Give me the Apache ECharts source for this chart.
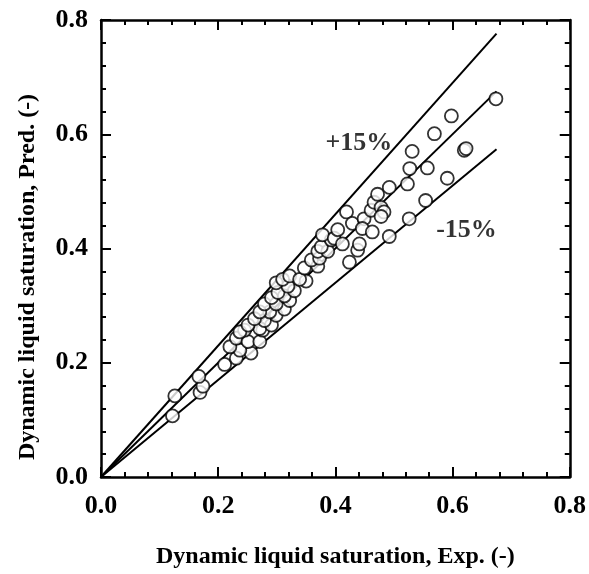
<!DOCTYPE html>
<html>
<head>
<meta charset="utf-8">
<script src="https://cdn.jsdelivr.net/npm/echarts@6/dist/echarts.min.js"></script>
<style>
  html, body { margin: 0; padding: 0; background: #fff; }
  #chart { width: 589px; height: 574px; }
</style>
</head>
<body>
<div id="chart"></div>
<script>
// Experimental vs predicted dynamic liquid saturation
const expSat = [
  0.122, 0.126, 0.169, 0.174, 0.167, 0.211, 0.231, 0.256, 0.237, 0.220,
  0.231, 0.251, 0.271, 0.245, 0.276, 0.237, 0.271, 0.251, 0.291, 0.279,
  0.262, 0.299, 0.288, 0.271, 0.313, 0.279, 0.299, 0.322, 0.291, 0.313,
  0.302, 0.330, 0.319, 0.299, 0.310, 0.350, 0.322, 0.339, 0.347, 0.370,
  0.359, 0.373, 0.370, 0.387, 0.376, 0.393, 0.378, 0.398, 0.404, 0.412,
  0.424, 0.438, 0.441, 0.419, 0.429, 0.449, 0.446, 0.463, 0.461, 0.466,
  0.472, 0.478, 0.483, 0.478, 0.492, 0.492, 0.526, 0.523, 0.527, 0.557,
  0.554, 0.531, 0.569, 0.598, 0.591, 0.620, 0.623, 0.674
];
const predSat = [
  0.107, 0.142, 0.148, 0.159, 0.176, 0.197, 0.208, 0.217, 0.222, 0.228,
  0.243, 0.237, 0.237, 0.257, 0.257, 0.254, 0.260, 0.266, 0.266, 0.274,
  0.277, 0.283, 0.289, 0.289, 0.294, 0.303, 0.303, 0.309, 0.314, 0.317,
  0.323, 0.326, 0.334, 0.340, 0.346, 0.343, 0.352, 0.346, 0.366, 0.369,
  0.380, 0.383, 0.395, 0.395, 0.403, 0.415, 0.424, 0.418, 0.433, 0.408,
  0.376, 0.397, 0.408, 0.464, 0.444, 0.452, 0.435, 0.429, 0.467, 0.481,
  0.495, 0.472, 0.464, 0.456, 0.507, 0.421, 0.452, 0.513, 0.540, 0.541,
  0.484, 0.570, 0.601, 0.632, 0.523, 0.572, 0.575, 0.662
];

// Parity line and ±15 % deviation bands
const lineEndX = 0.675;
const bandFactors = [1.15, 1.0, 0.85];

// Band annotations
const bandLabels = ['+15%', '-15%'];
const bandLabelPos = [[0.383, 0.585], [0.572, 0.432]];

// Axis ticks and titles
const axisMin = 0, axisMax = 0.8, axisStep = 0.2;
const xTitle = 'Dynamic liquid saturation, Exp. (-)';
const yTitle = 'Dynamic liquid saturation, Pred. (-)';

const font = '"Liberation Serif", "Times New Roman", serif';

const points = expSat.map((x, i) => [x, predSat[i]]);

const lineSeries = bandFactors.map(f => ({
  type: 'line',
  data: [[0, 0], [lineEndX, lineEndX * f]],
  symbol: 'none',
  lineStyle: { color: '#000', width: 2 },
  z: 2,
  silent: true
}));

function valueAxis(pos, showLabels, name, gap) {
  return {
    type: 'value',
    position: pos,
    min: axisMin, max: axisMax, interval: axisStep,
    name: name || '',
    nameLocation: 'middle',
    nameGap: gap || 0,
    nameTextStyle: { fontFamily: font, fontWeight: 'bold', fontSize: 24, color: '#000' },
    axisLine: { show: true, onZero: false, lineStyle: { color: '#000', width: 2.5 } },
    axisTick: { show: true, inside: true, length: 10, lineStyle: { color: '#000', width: 2 } },
    minorTick: { show: true, splitNumber: 5, length: 5, lineStyle: { color: '#000', width: 2 } },
    splitLine: { show: false },
    minorSplitLine: { show: false },
    axisLabel: {
      show: showLabels,
      margin: pos === 'bottom' ? 16 : 13,
      fontFamily: font, fontWeight: 'bold', fontSize: 26, color: '#000',
      formatter: v => v.toFixed(1)
    }
  };
}

const chart = echarts.init(document.getElementById('chart'), null, { renderer: 'canvas' });
chart.setOption({
  animation: false,
  backgroundColor: '#fff',
  grid: { left: 101, right: 18, top: 20, bottom: 90 },
  xAxis: [
    valueAxis('bottom', true, xTitle, 68),
    valueAxis('top', false)
  ],
  yAxis: [
    valueAxis('left', true),
    valueAxis('right', false)
  ],
  // vertical title sits slightly below the plot's mid-height
  graphic: [{
    type: 'text',
    x: 28, y: 277,
    rotation: Math.PI / 2,
    style: {
      text: yTitle,
      fontFamily: font, fontWeight: 'bold', fontSize: 24, fill: '#000',
      align: 'center', verticalAlign: 'middle'
    }
  }],
  series: [
    ...lineSeries,
    {
      type: 'scatter',
      data: points,
      symbol: 'circle',
      symbolSize: 13,
      itemStyle: { color: '#fff', borderColor: '#000', borderWidth: 1.8 },
      z: 3
    },
    {
      type: 'scatter',
      data: bandLabelPos.map((p, i) => ({ value: p, name: bandLabels[i] })),
      symbolSize: 0,
      label: {
        show: true,
        position: 'right',
        distance: 0,
        formatter: p => p.name,
        fontFamily: font, fontWeight: 'bold', fontSize: 26, color: '#000'
      },
      z: 4,
      silent: true
    }
  ]
});
</script>
</body>
</html>
